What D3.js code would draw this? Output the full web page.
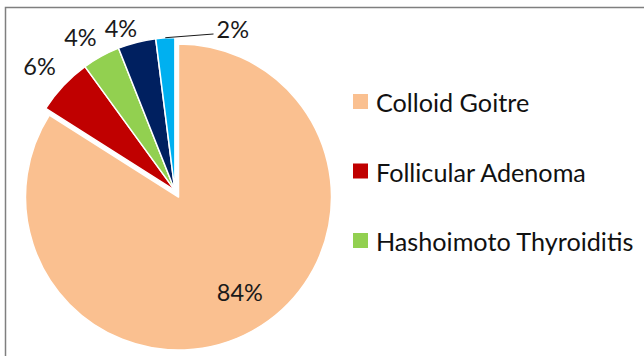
<!DOCTYPE html>
<html>
<head>
<meta charset="utf-8">
<script src="https://cdn.jsdelivr.net/npm/d3@7"></script>
<style>
  html, body { margin: 0; padding: 0; background: #fff; }
  svg { display: block; }
</style>
</head>
<body>
<svg id="chart" width="644" height="356"></svg>
<script>
// Diagnoses and their share of cases (%)
const categories = ["Colloid Goitre", "Follicular Adenoma", "Hashoimoto Thyroiditis", "Papillary Carcinoma", "Other"];
const values = [84, 6, 4, 4, 2];
const labels = ["84%", "6%", "4%", "4%", "2%"];
const colors = ["#FAC090", "#C00000", "#92D050", "#002060", "#00B0F0"];
// Only the first three entries fit in the visible legend area
const legendCount = 3;

const svg = d3.select("#chart");
const W = 644, H = 356;

// Chart frame (runs past the right and bottom edges)
svg.append("path")
  .attr("d", `M5.5,${H + 2} V7.5 H${W + 2}`)
  .attr("fill", "none")
  .attr("stroke", "#7f7f7f")
  .attr("stroke-width", 1.5);

const cx = 178.5, cy = 197, R = 153;
const explode = 7.5;

const pie = d3.pie().sort(null).value(d => d)(values);
const arc = d3.arc().innerRadius(0).outerRadius(R);

// The small slices are pulled out together along their common mid-angle
const small = pie.slice(1);
const groupMid = (small[0].startAngle + small[small.length - 1].endAngle) / 2;
const offset = i => i === 0 ? [0, 0]
  : [Math.sin(groupMid) * explode, -Math.cos(groupMid) * explode];

const g = svg.append("g").attr("transform", `translate(${cx},${cy})`);

g.selectAll("path.slice")
  .data(pie)
  .join("path")
  .attr("class", "slice")
  .attr("transform", (d, i) => `translate(${offset(i)[0]},${offset(i)[1]})`)
  .attr("d", arc)
  .attr("fill", (d, i) => colors[i])
  .attr("stroke", "#fff")
  .attr("stroke-width", 1.5)
  .attr("stroke-linejoin", "round");

// Data labels
const font = "Lato, 'Open Sans', sans-serif";
const labelSize = 23.5;
const labelPos = (d, i) => {
  const mid = (d.startAngle + d.endAngle) / 2;
  if (i === 0) {
    const r = R * 0.74;
    const a = mid - 0.07;
    return [Math.sin(a) * r, -Math.cos(a) * r];
  }
  const [ox, oy] = offset(i);
  // outside-end placement, spread so neighbouring labels do not collide
  const rOut = [0, 184, 180, 171][i];
  const shift = [0, 0.01, 0.05, 0.07][i];
  const a = mid - shift;
  return [Math.sin(a) * rOut + ox, -Math.cos(a) * rOut + oy];
};

pie.forEach((d, i) => {
  if (i === pie.length - 1) return;
  const [x, y] = labelPos(d, i);
  g.append("text")
    .attr("x", x).attr("y", y)
    .attr("text-anchor", "middle")
    .attr("dominant-baseline", "central")
    .attr("font-family", font)
    .attr("font-size", labelSize)
    .attr("fill", "#1a1a1a")
    .text(labels[i]);
});

// Smallest slice: label with a leader line
{
  const i = pie.length - 1, d = pie[i];
  const mid = (d.startAngle + d.endAngle) / 2;
  const [ox, oy] = offset(i);
  const p0 = [Math.sin(mid) * R + ox, -Math.cos(mid) * R + oy];
  const p1 = [35, -163];
  g.append("line")
    .attr("x1", p0[0]).attr("y1", p0[1])
    .attr("x2", p1[0]).attr("y2", p1[1])
    .attr("stroke", "#1a1a1a").attr("stroke-width", 1);
  g.append("text")
    .attr("x", p1[0] + 3).attr("y", p1[1] - 5)
    .attr("dominant-baseline", "central")
    .attr("font-family", font)
    .attr("font-size", labelSize)
    .attr("fill", "#1a1a1a")
    .text(labels[i]);
}

// Legend
const legend = svg.append("g").attr("transform", "translate(353,101)");
const rows = legend.selectAll("g")
  .data(categories.slice(0, legendCount))
  .join("g")
  .attr("transform", (d, i) => `translate(0,${i * 69.5})`);
rows.append("rect")
  .attr("x", 0).attr("y", -7)
  .attr("width", 15).attr("height", 15)
  .attr("fill", (d, i) => colors[i]);
rows.append("text")
  .attr("x", 23).attr("y", 1)
  .attr("dominant-baseline", "central")
  .attr("font-family", font)
  .attr("font-size", 25.2)
  .attr("fill", "#111")
  .text(d => d);
</script>
</body>
</html>
